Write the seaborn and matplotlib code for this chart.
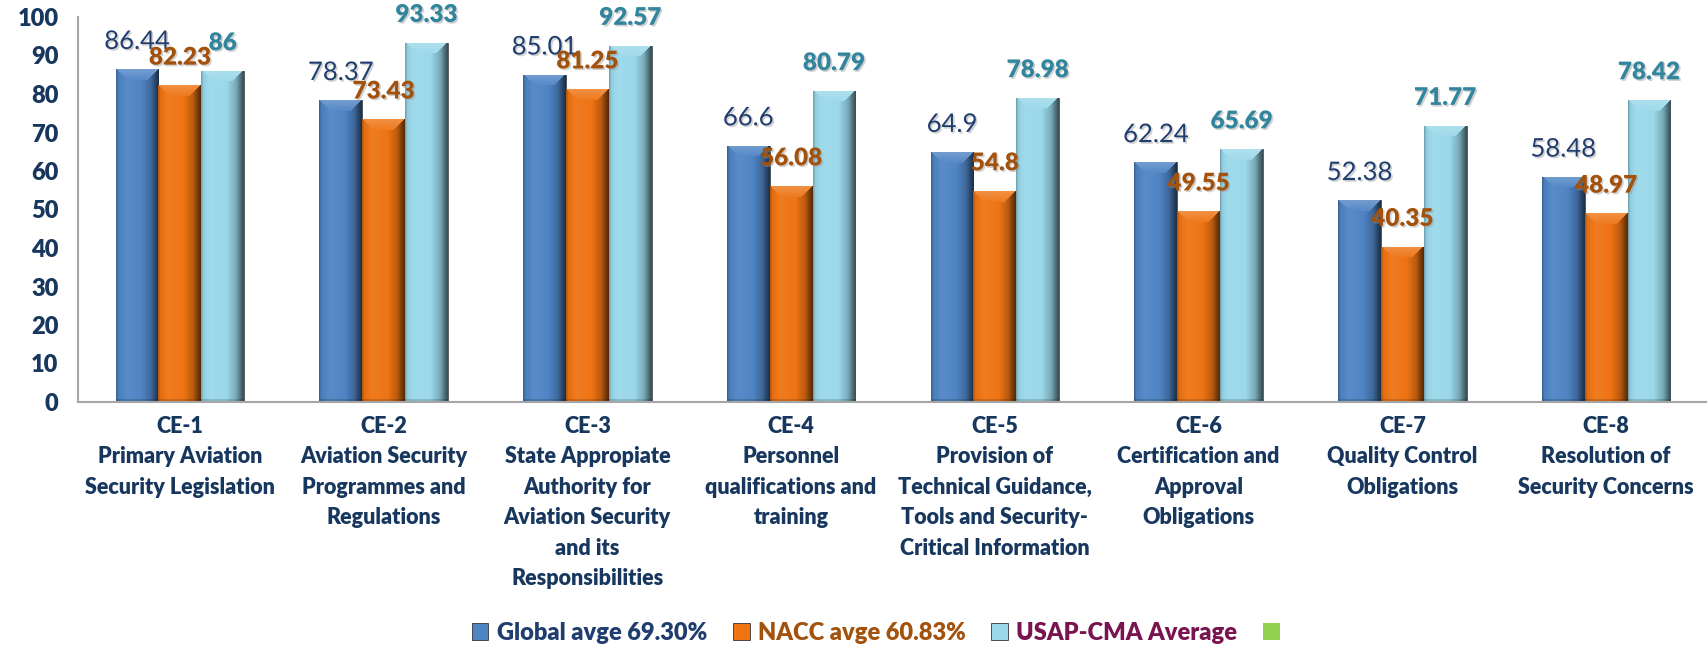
import numpy as np
import pandas as pd
import matplotlib
matplotlib.use("Agg")
import matplotlib.pyplot as plt
import matplotlib.colors as mcolors
import matplotlib.patheffects as pe
import seaborn as sns
from matplotlib.patches import Patch

categories = ["CE-1\nPrimary Aviation\nSecurity Legislation",
              "CE-2\nAviation Security\nProgrammes and\nRegulations",
              "CE-3\nState Appropiate\nAuthority for\nAviation Security\nand its\nResponsibilities",
              "CE-4\nPersonnel\nqualifications and\ntraining",
              "CE-5\nProvision of\nTechnical Guidance,\nTools and Security-\nCritical Information",
              "CE-6\nCertification and\nApproval\nObligations",
              "CE-7\nQuality Control\nObligations",
              "CE-8\nResolution of\nSecurity Concerns"]
series_names = ["Global avge 69.30%", "NACC avge 60.83%", "USAP-CMA Average"]
global_vals = [86.44, 78.37, 85.01, 66.6, 64.9, 62.24, 52.38, 58.48]
nacc_vals = [82.23, 73.43, 81.25, 56.08, 54.8, 49.55, 40.35, 48.97]
usap_vals = [86, 93.33, 92.57, 80.79, 78.98, 65.69, 71.77, 78.42]
yticks = list(range(0, 101, 10))

bar_colors = ["#4F84C4", "#EE7414", "#9AD8EA"]
label_colors = ["#1F3D6E", "#A3520E", "#31859C"]
label_weights = ["normal", "heavy", "heavy"]
label_sizes = [18.5, 17.5, 17.5]
legend_text_colors = ["#1F3D6E", "#A3520E", "#7A1450"]
tick_color = "#17375E"

df = pd.DataFrame({
    "cat": categories * 3,
    "series": sum([[s] * len(categories) for s in series_names], []),
    "value": global_vals + nacc_vals + usap_vals,
})

sns.set_theme(style="white")
plt.rcParams["font.family"] = ["Lato", "DejaVu Sans"]

W, H = 1708, 646
fig = plt.figure(figsize=(W / 100, H / 100), dpi=100)
ax = fig.add_axes([78 / W, 1 - 402 / H, 1 - 78 / W, (402 - 17) / H])

sns.barplot(data=df, x="cat", y="value", hue="series", order=categories,
            hue_order=series_names, palette=bar_colors, width=0.63, gap=0,
            saturation=1, ax=ax, legend=False, edgecolor="#2b2b2b", linewidth=0.5)

ax.set_ylim(0, 100)
ax.set_xlim(-0.5, len(categories) - 0.5)


def shade(rgb, f):
    rgb = np.asarray(rgb)
    if f >= 1:
        return rgb + (1 - rgb) * min(f - 1, 1)
    return rgb * f


px_per_unit_y = (402 - 17) / 100.0
prof_u = [0.0, 0.06, 0.25, 0.6, 0.82, 0.93, 1.0]
prof_f = [0.72, 0.95, 1.06, 1.0, 0.78, 0.5, 0.35]

shadow = [pe.SimplePatchShadow(offset=(1.2, -1.2), shadow_rgbFace="#999999", alpha=0.45), pe.Normal()]

for i, cont in enumerate(ax.containers):
    base = np.array(mcolors.to_rgb(bar_colors[i]))
    for bar in cont:
        x0 = bar.get_x()
        w = bar.get_width()
        h = bar.get_height()
        hpx = max(int(round(h * px_per_unit_y)), 2)
        wpx = 43
        bevel = 11
        img = np.zeros((hpx, wpx, 3))
        for c in range(wpx):
            u = (c + 0.5) / wpx
            fcol = np.interp(u, prof_u, prof_f)
            img[:, c, :] = shade(base, fcol)
            for r in range(min(bevel, hpx)):
                d = r + 0.5
                if c + 0.5 > d and wpx - (c + 0.5) > d:
                    img[r, c, :] = shade(base, 1.2 - 0.015 * r)
        for r in range(max(hpx - 3, 0), hpx):
            img[r, :, :] *= 0.85
        im = ax.imshow(img, extent=[x0, x0 + w, 0, h], aspect="auto",
                       interpolation="bilinear", zorder=bar.get_zorder() + 0.1,
                       origin="upper")
        im.set_clip_path(bar)
    for bar, v in zip(cont, cont.datavalues):
        x = bar.get_x() + bar.get_width() / 2
        ax.annotate(f"{v:g}", (x, bar.get_height()), xytext=(0, 20),
                    textcoords="offset points", ha="center", va="center",
                    fontsize=label_sizes[i], color=label_colors[i],
                    fontweight=label_weights[i], annotation_clip=False,
                    path_effects=shadow, zorder=5)

ax.set_aspect("auto")
ax.set_ylim(0, 100)
ax.set_xlim(-0.5, len(categories) - 0.5)
ax.set_yticks(yticks)
ax.set_yticklabels([str(t) for t in yticks], fontsize=17, fontweight="heavy", color=tick_color)
ax.set_xticks(range(len(categories)))
ax.set_xticklabels(categories, fontsize=15.5, fontweight="heavy", color=tick_color,
                   linespacing=1.56, va="top")
ax.tick_params(axis="both", length=0)
ax.tick_params(axis="x", pad=10)
ax.tick_params(axis="y", pad=14)
ax.set_xlabel("")
ax.set_ylabel("")
for side in ["top", "right"]:
    ax.spines[side].set_visible(False)
for side in ["left", "bottom"]:
    ax.spines[side].set_color("#A6A6A6")
    ax.spines[side].set_linewidth(1.5)
ax.grid(False)

handles = [Patch(facecolor=c, edgecolor="#333333", linewidth=0.6) for c in bar_colors]
handles.append(Patch(facecolor="#92D050", edgecolor="none"))
leg = fig.legend(handles, series_names + [""], loc="center", ncol=4,
                 bbox_to_anchor=(880 / W, 1 - 633 / H), frameon=False,
                 prop={"size": 17, "weight": "heavy"}, handlelength=0.7,
                 handleheight=0.7, handletextpad=0.35, columnspacing=1.1)
for t, c in zip(leg.get_texts(), legend_text_colors):
    t.set_color(c)

fig.savefig("out.png", dpi=100)
